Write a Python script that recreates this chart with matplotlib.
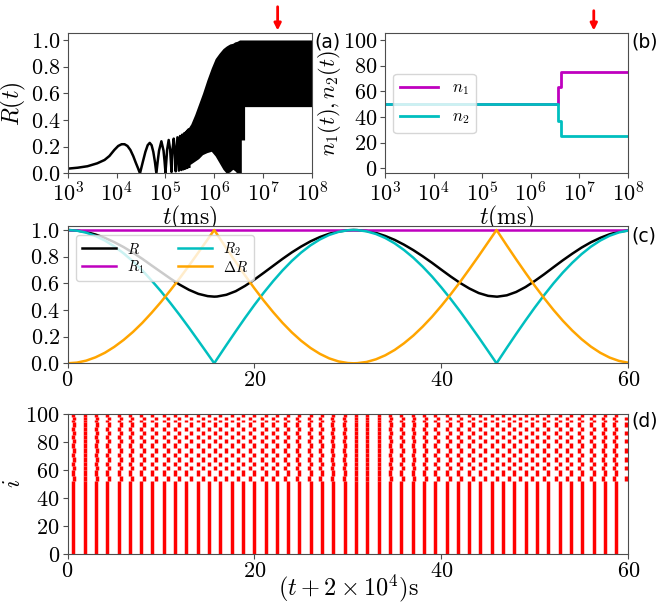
import numpy as np
import matplotlib.pyplot as plt

plt.rcParams['font.family'] = 'serif'
plt.rcParams['font.serif'] = ['cmr10']
plt.rcParams['mathtext.fontset'] = 'cm'
plt.rcParams['axes.unicode_minus'] = False
plt.rcParams['axes.formatter.use_mathtext'] = True
plt.rcParams['axes.edgecolor'] = '0.3'
plt.rcParams['xtick.color'] = '0.3'
plt.rcParams['ytick.color'] = '0.3'
plt.rcParams['xtick.labelcolor'] = 'black'
plt.rcParams['ytick.labelcolor'] = 'black'

# ---- (a) R(t) over the whole run (log10 of t in ms) ----
a_osc_logt = [3.00, 3.20, 3.40, 3.60, 3.75, 3.85, 3.95, 4.03, 4.10, 4.16,
              4.22, 4.28, 4.34, 4.39, 4.44, 4.477,
              4.536, 4.588, 4.635, 4.677, 4.715, 4.750, 4.783, 4.813,
              4.841, 4.868, 4.916, 4.960, 4.981, 5.000,
              5.034, 5.066, 5.096, 5.124,
              5.147, 5.169, 5.190, 5.210,
              5.245, 5.275, 5.300, 5.325, 5.345, 5.365, 5.385, 5.405, 5.420,
              5.437, 5.450, 5.463, 5.475, 5.490]
a_osc_R = [0.035, 0.042, 0.053, 0.075, 0.100, 0.130, 0.175, 0.205, 0.218, 0.218,
           0.205, 0.175, 0.128, 0.080, 0.035, 0.0,
           0.087, 0.161, 0.211, 0.228, 0.211, 0.161, 0.087, 0.0,
           0.092, 0.170, 0.240, 0.170, 0.092, 0.005,
           0.177, 0.250, 0.177, 0.010,
           0.184, 0.260, 0.184, 0.015,
           0.270, 0.020, 0.280, 0.025, 0.290, 0.030, 0.300, 0.035, 0.310,
           0.040, 0.320, 0.045, 0.330, 0.050]
a_env_logt = [5.38, 5.45, 5.52, 5.60, 5.68, 5.76, 5.85, 5.94, 6.02, 6.10, 6.18,
              6.25, 6.32, 6.38, 6.42, 6.47, 6.52, 6.556, 6.556, 6.623, 6.623, 8.0]
a_env_up = [0.30, 0.33, 0.37, 0.44, 0.52, 0.60, 0.70, 0.79, 0.86, 0.90, 0.935,
            0.955, 0.97, 0.975, 0.985, 0.99, 1.0, 1.0, 1.0, 1.0, 1.0, 1.0]
a_env_low = [0.03, 0.06, 0.07, 0.09, 0.11, 0.14, 0.155, 0.165, 0.13, 0.08, 0.03,
             0.0, 0.01, 0.03, 0.02, 0.0, 0.0, 0.0, 0.25, 0.25, 0.5, 0.5]

# ---- (b) cluster sizes ----
b_t = [1e3, 3.6e6, 4.2e6, 1e8]
b_n1 = [50, 63, 75, 75]
b_n2 = [50, 37, 25, 25]
arrow_t = 2e7

# ---- (c) order parameters, t in s ----
c_t = [0, 1, 2, 3, 4, 5, 6, 7, 8, 9, 10, 11, 12, 13, 14, 15, 15.7,
       16, 17, 18, 19, 20, 21, 22, 23, 24, 25, 26, 27, 28, 29, 30, 30.6,
       31, 32, 33, 34, 35, 36, 37, 38, 39, 40, 41, 42, 43, 44, 45, 45.9,
       46, 47, 48, 49, 50, 51, 52, 53, 54, 55, 56, 57, 58, 59, 60]
c_R = [1.000, 0.996, 0.985, 0.966, 0.941, 0.909, 0.872, 0.830, 0.784, 0.734,
       0.685, 0.636, 0.590, 0.551, 0.521, 0.504, 0.500,
       0.501, 0.514, 0.541, 0.581, 0.628, 0.679, 0.731, 0.783, 0.832, 0.876,
       0.915, 0.947, 0.972, 0.989, 0.998, 1.000,
       0.999, 0.993, 0.978, 0.955, 0.926, 0.890, 0.849, 0.803, 0.754, 0.702,
       0.651, 0.603, 0.561, 0.527, 0.506, 0.500,
       0.500, 0.510, 0.535, 0.572, 0.618, 0.668, 0.721, 0.773, 0.822, 0.868,
       0.908, 0.941, 0.968, 0.987, 0.997]
c_R1_t = [0, 60]
c_R1 = [1.0, 1.0]
c_R2 = [1.000, 0.995, 0.980, 0.955, 0.921, 0.877, 0.825, 0.765, 0.697, 0.621,
        0.540, 0.453, 0.362, 0.267, 0.169, 0.070, 0.000,
        0.032, 0.137, 0.240, 0.341, 0.438, 0.530, 0.616, 0.696, 0.768, 0.831,
        0.885, 0.929, 0.963, 0.986, 0.998, 1.000,
        0.999, 0.990, 0.970, 0.940, 0.900, 0.850, 0.792, 0.725, 0.651, 0.569,
        0.482, 0.390, 0.293, 0.194, 0.092, 0.000,
        0.010, 0.116, 0.220, 0.321, 0.419, 0.512, 0.600, 0.681, 0.754, 0.819,
        0.875, 0.921, 0.957, 0.982, 0.996]
c_dR = [0.000, 0.005, 0.020, 0.045, 0.079, 0.123, 0.175, 0.235, 0.303, 0.379,
        0.460, 0.547, 0.638, 0.733, 0.831, 0.930, 1.000,
        0.968, 0.863, 0.760, 0.659, 0.562, 0.470, 0.384, 0.304, 0.232, 0.169,
        0.115, 0.071, 0.037, 0.014, 0.002, 0.000,
        0.001, 0.010, 0.030, 0.060, 0.100, 0.150, 0.208, 0.275, 0.349, 0.431,
        0.518, 0.610, 0.707, 0.806, 0.908, 1.000,
        0.990, 0.884, 0.780, 0.679, 0.581, 0.488, 0.400, 0.319, 0.246, 0.181,
        0.125, 0.079, 0.043, 0.018, 0.004]

# ---- (d) raster: spike times of the locked group and of the drifting group ----
d_main = [0.62, 1.83, 3.04, 4.25, 5.46, 6.67, 7.88, 9.09, 10.30, 11.51, 12.72,
          13.93, 15.14, 16.35, 17.56, 18.77, 19.98, 21.19, 22.40, 23.61, 24.82,
          26.03, 27.24, 28.45, 29.66, 30.87, 32.08, 33.29, 34.50, 35.71, 36.92,
          38.13, 39.34, 40.55, 41.76, 42.97, 44.18, 45.39, 46.60, 47.81, 49.02,
          50.23, 51.44, 52.65, 53.86, 55.07, 56.28, 57.49, 58.70]
d_drift = [0.645, 1.902, 3.160, 4.418, 5.676, 6.933, 8.191, 9.449, 10.707,
           11.965, 13.222, 14.480, 15.738, 16.996, 18.254, 19.511, 20.769,
           22.027, 23.285, 24.543, 25.800, 27.058, 28.316, 29.574, 30.832,
           32.089, 33.347, 34.605, 35.863, 37.121, 38.378, 39.636, 40.894,
           42.152, 43.410, 44.667, 45.925, 47.183, 48.441, 49.699, 50.956,
           52.214, 53.472, 54.730, 55.987, 57.245, 58.504, 59.761]
d_drift_ids = [52, 53, 54, 55, 60, 61, 62, 66, 67, 68, 72, 73, 74, 75,
               79, 80, 81, 85, 86, 87, 91, 92, 93, 96, 97]
n_neurons = 100

W, H = 657, 603
fig = plt.figure(figsize=(W / 100, H / 100), dpi=100)


def box(l, t, r, b):
    return [l / W, 1 - b / H, (r - l) / W, (b - t) / H]


tick_fs = 16
lab_fs = 17

# (a)
ax_a = fig.add_axes(box(68, 33.3, 311.7, 173.3))
ax_a.plot(10.0 ** np.array(a_osc_logt), a_osc_R, color='k', lw=1.8)
ax_a.fill_between(10.0 ** np.array(a_env_logt), a_env_low, a_env_up, color='k', lw=0)
ax_a.set_xscale('log')
ax_a.set_xlim(1e3, 1e8)
ax_a.set_ylim(0, 1.05)
ax_a.set_yticks([0, 0.2, 0.4, 0.6, 0.8, 1.0])
ax_a.set_xticks([1e3, 1e4, 1e5, 1e6, 1e7, 1e8])
ax_a.set_ylabel('$R(t)$', fontsize=lab_fs, labelpad=2)
ax_a.set_xlabel('$t(\\mathrm{ms})$', fontsize=lab_fs, labelpad=-1)
ax_a.annotate('', xy=(arrow_t, 1.05), xytext=(arrow_t, 1.27),
              xycoords='data', annotation_clip=False,
              arrowprops=dict(arrowstyle='-|>', color='red', lw=2, mutation_scale=10))

# (b)
ax_b = fig.add_axes(box(385, 33.3, 627.7, 173.3))
ax_b.step(b_t, b_n1, where='post', color='m', lw=2, label='$n_1$')
ax_b.step(b_t, b_n2, where='post', color='c', lw=2, label='$n_2$')
ax_b.set_xscale('log')
ax_b.set_xlim(1e3, 1e8)
ax_b.set_ylim(-4, 105.2)
ax_b.set_yticks([0, 20, 40, 60, 80, 100])
ax_b.set_xticks([1e3, 1e4, 1e5, 1e6, 1e7, 1e8])
ax_b.set_ylabel('$n_1(t), n_2(t)$', fontsize=16, labelpad=0)
ax_b.set_xlabel('$t(\\mathrm{ms})$', fontsize=lab_fs, labelpad=-1)
ax_b.legend(loc='center left', fontsize=12, labelspacing=0.7, handlelength=2.3)
ax_b.annotate('', xy=(arrow_t, 105.2), xytext=(arrow_t, 125),
              xycoords='data', annotation_clip=False,
              arrowprops=dict(arrowstyle='-|>', color='red', lw=2, mutation_scale=10))

# (c)
ax_c = fig.add_axes(box(67.5, 226, 628.3, 363.3))
ax_c.plot(c_t, c_R, color='k', lw=1.8, label='$R$')
ax_c.plot(c_R1_t, c_R1, color='m', lw=1.8, label='$R_1$')
ax_c.plot(c_t, c_R2, color='c', lw=1.8, label='$R_2$')
ax_c.plot(c_t, c_dR, color='orange', lw=1.8, label='$\\Delta R$')
ax_c.set_xlim(0, 60)
ax_c.set_ylim(0, 1.03)
ax_c.set_xticks([0, 20, 40, 60])
ax_c.set_yticks([0, 0.2, 0.4, 0.6, 0.8, 1.0])
ax_c.legend(loc='upper left', ncol=2, fontsize=10.5, labelspacing=0.1,
            handlelength=2.3, columnspacing=2.3, borderaxespad=0.6)

# (d) contiguous blocks of neurons with the same spike train are drawn as one segment
ax_d = fig.add_axes(box(67.5, 414, 628.3, 554))
start = 0
for i in range(1, n_neurons + 1):
    if i == n_neurons or ((i in d_drift_ids) != (start in d_drift_ids)):
        times = d_drift if start in d_drift_ids else d_main
        ax_d.vlines(times, start, i, colors='red', lw=2.5)
        start = i
ax_d.set_xlim(0, 60)
ax_d.set_ylim(0, 100)
ax_d.set_xticks([0, 20, 40, 60])
ax_d.set_yticks([0, 20, 40, 60, 80, 100])
ax_d.set_ylabel('$i$', fontsize=lab_fs, labelpad=0)
ax_d.set_xlabel('$(t+2\\times10^4)\\mathrm{s}$', fontsize=17.5, labelpad=-6)

for ax in (ax_a, ax_b, ax_c, ax_d):
    ax.tick_params(labelsize=tick_fs, pad=2)

for lab, x, y in [('(a)', 314, 42), ('(b)', 631, 42), ('(c)', 631, 236), ('(d)', 631, 421)]:
    fig.text(x / W, 1 - y / H, lab, fontsize=13.5, family='DejaVu Sans',
             ha='left', va='center')

fig.savefig('out.png', dpi=100)
